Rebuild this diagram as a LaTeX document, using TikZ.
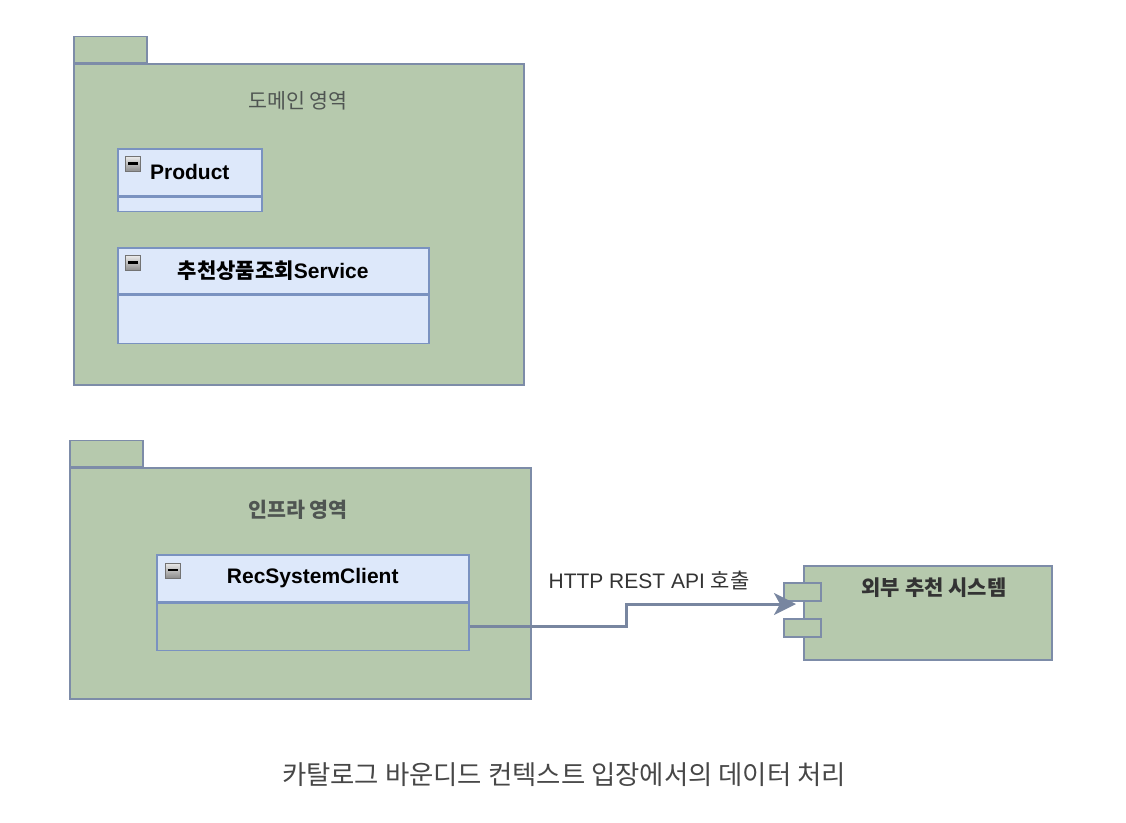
\documentclass[tikz,border=0pt]{standalone}
\usepackage{fontspec}
\setmainfont{Liberation Sans}
\newfontfamily\kr{Noto Sans CJK KR}
\usetikzlibrary{arrows.meta,calc,positioning}
\definecolor{pkgfill}{HTML}{B6C9AD}
\definecolor{pkgline}{HTML}{7D8CA8}
\definecolor{clsfill}{HTML}{DDE8FA}
\definecolor{clsline}{HTML}{7A92C0}
\definecolor{flowline}{HTML}{7886A0}
\definecolor{inktext}{HTML}{333333}
\definecolor{pkgtext}{HTML}{4F5552}

\begin{document}
\begin{tikzpicture}[
  x=1pt,y=-1pt,
  pkg/.style={draw=pkgline,fill=pkgfill,line width=1.5pt,anchor=north west,inner sep=0pt},
  pkglabel/.style={text=pkgtext,font=\fontsize{20.6}{24}\selectfont\kr},
  clshead/.style={draw=clsline,fill=clsfill,line width=1.5pt,anchor=north west,inner sep=0pt,
    font=\fontsize{21}{25}\selectfont\bfseries},
  clsbody/.style={draw=clsline,fill=clsfill,line width=1.5pt,anchor=north west,inner sep=0pt},
  toggle/.style={draw=black!55,top color=black!8,bottom color=black!45,line width=0.9pt,
    minimum size=15pt,inner sep=0pt,
    path picture={\draw[line width=2.2pt,black]
      ([xshift=-5pt,yshift=0.5pt]path picture bounding box.center) --
      ([xshift=5pt,yshift=0.5pt]path picture bounding box.center);}},
  comp/.style={draw=pkgline,fill=pkgfill,line width=1.5pt,inner sep=0pt},
  flow/.style={draw=flowline,line width=3pt,-{Stealth[length=22pt,width=22pt,inset=6pt]}},
  note/.style={text=inktext,font=\fontsize{21}{25}\selectfont}
]
\useasboundingbox (0,0) rectangle (1126,822);
% Domain package
\node[pkg,minimum width=450,minimum height=321] (domain) at (73,63) {};
\node[pkg,minimum width=73,minimum height=26,anchor=south west] (domaintab) at (domain.north west) {};
\node[pkglabel] (domainlabel) at (298,101) {도메인 영역};
% Product class
\node[clshead,minimum width=144,minimum height=47] (producthead) at (117,148) {Product};
\node[clsbody,minimum width=144,minimum height=14] (productbody) at (producthead.south west) {};
\node[toggle] (producttoggle) at ($(producthead.north west)+(16,16)$) {};
% Service class
\node[clshead,minimum width=311,minimum height=46] (servicehead) at (117,247) {{\kr 추천상품조회}Service};
\node[clsbody,minimum width=311,minimum height=48] (servicebody) at (servicehead.south west) {};
\node[toggle] (servicetoggle) at ($(servicehead.north west)+(16,16)$) {};

% Infra package
\node[pkg,minimum width=461,minimum height=231] (infra) at (69,467) {};
\node[pkg,minimum width=73,minimum height=26,anchor=south west] (infratab) at (infra.north west) {};
\node[pkglabel,font=\fontsize{20.6}{24}\selectfont\kr\bfseries] (infralabel) at (298,510) {인프라 영역};
% RecSystemClient class
\node[clshead,minimum width=312,minimum height=47] (clienthead) at (156,554) {RecSystemClient};
\node[clsbody,fill=none,minimum width=312,minimum height=47] (clientbody) at (clienthead.south west) {};
\node[toggle] (clienttoggle) at ($(clienthead.north west)+(16.5,16.5)$) {};

% External system
\node[comp,anchor=north west,minimum width=248,minimum height=94] (ext) at (803,565) {};
\node[comp,minimum width=37,minimum height=18] (extport1) at (802.5,592) {};
\node[comp,minimum width=37,minimum height=18] (extport2) at (802.5,628) {};
\node[text=inktext,font=\fontsize{21}{25}\selectfont\kr\bfseries] (extlabel) at (934,588) {외부 추천 시스템};

% Call
\coordinate (bend) at (626,604);
\coordinate (extin) at (796,604);
\draw[flow] (clientbody.east) -| (bend) -- (extin);
\node[note] (flowlabel) at (649,580) {HTTP REST API {\kr 호출}};

% Caption
\node[text=black!72,font=\fontsize{26.4}{30}\selectfont\kr] (caption) at (564,775)
  {카탈로그 바운디드 컨텍스트 입장에서의 데이터 처리};
\end{tikzpicture}
\end{document}
